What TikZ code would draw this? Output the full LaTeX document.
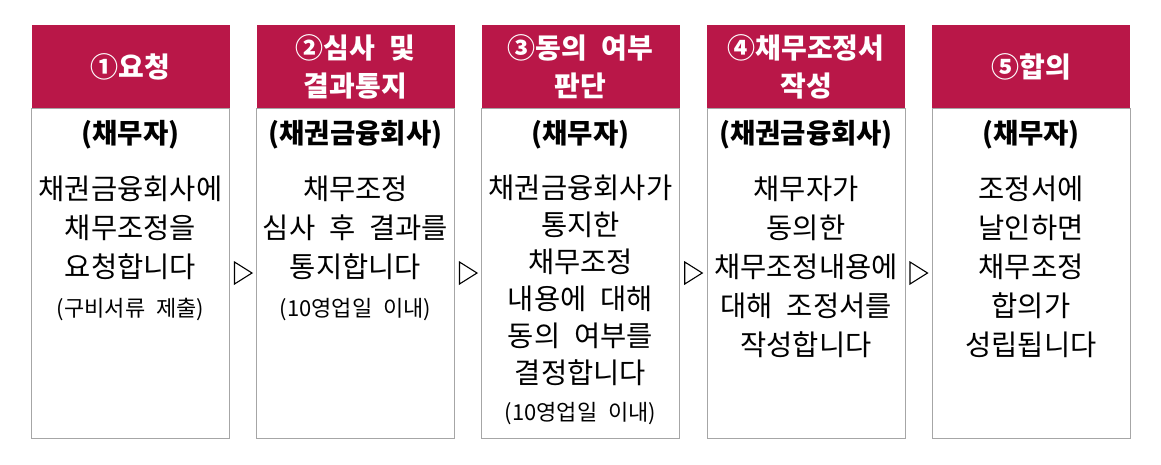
\documentclass[tikz,border=0pt]{standalone}
\usepackage{fontspec}
\setmainfont{Noto Sans CJK KR}[WordSpace=2.2]
\usetikzlibrary{calc}
\definecolor{headred}{RGB}{185,23,72}
\definecolor{boxgray}{RGB}{166,166,166}
\begin{document}
\begin{tikzpicture}[x=1pt,y=-1pt]
\tikzstyle{every node}+=[inner sep=0pt]
\tikzstyle{head}=[rectangle, fill=headred, text=white, minimum width=198pt, minimum height=83pt, align=center, font=\fontsize{28}{38}\selectfont\bfseries]
\tikzstyle{body}=[rectangle, draw=boxgray, line width=1pt, minimum width=198pt, minimum height=330pt]
\tikzstyle{who}=[font=\fontsize{27.5}{38}\selectfont\bfseries]
\tikzstyle{desc}=[anchor=north, align=center, font=\fontsize{28.5}{39}\selectfont]
\tikzstyle{tri}=[draw=black, line width=1.1pt, line join=miter]
\useasboundingbox (0,0) rectangle (1161,464);
% headers
\node [head] (head1) at (130.5,66.5) {①요청};
\node [head] (head2) at (355.5,66.5) {②심사 및\\결과통지};
\node [head] (head3) at (580.5,66.5) {③동의 여부\\판단};
\node [head] (head4) at (806,66.5) {④채무조정서\\작성};
\node [head] (head5) at (1031,66.5) {⑤합의};
% boxes
\node [body] (body1) at (130.5,273) {};
\node [body] (body2) at (355.5,273) {};
\node [body] (body3) at (580.5,273) {};
\node [body] (body4) at (806,273) {};
\node [body] (body5) at (1031,273) {};
% who
\node [who] (who1) at (130.5,135) {(채무자)};
\node [who] (who2) at (355.5,135) {(채권금융회사)};
\node [who] (who3) at (580.5,135) {(채무자)};
\node [who] (who4) at (806,135) {(채권금융회사)};
\node [who] (who5) at (1031,135) {(채무자)};
% texts
\node [desc] (desc1) at (130.5,176) {채권금융회사에\\채무조정을\\요청합니다\\{\fontsize{22}{24}\selectfont (구비서류 제출)}};
\node [desc] (desc2) at (355.5,176) {채무조정\\심사 후 결과를\\통지합니다\\{\fontsize{22}{24}\selectfont (10영업일 이내)}};
\node [desc, font=\fontsize{28.5}{37}\selectfont] (desc3) at (580.5,175) {채권금융회사가\\통지한\\채무조정\\내용에 대해\\동의 여부를\\결정합니다\\{\fontsize{22}{24}\selectfont (10영업일 이내)}};
\node [desc] (desc4) at (806,176) {채무자가\\동의한\\채무조정내용에\\대해 조정서를\\작성합니다};
\node [desc] (desc5) at (1031,176) {조정서에\\날인하면\\채무조정\\합의가\\성립됩니다};
% arrows
\foreach \a/\b in {1/2,2/3,3/4,4/5} {
  \coordinate (m\a) at ($(body\a.east)!0.5!(body\b.west)$);
  \draw [tri] ($(m\a)+(-8.5,11)$) -- ($(m\a)+(9,0)$) -- ($(m\a)+(-8.5,-11)$) -- cycle;
}
\end{tikzpicture}
\end{document}
